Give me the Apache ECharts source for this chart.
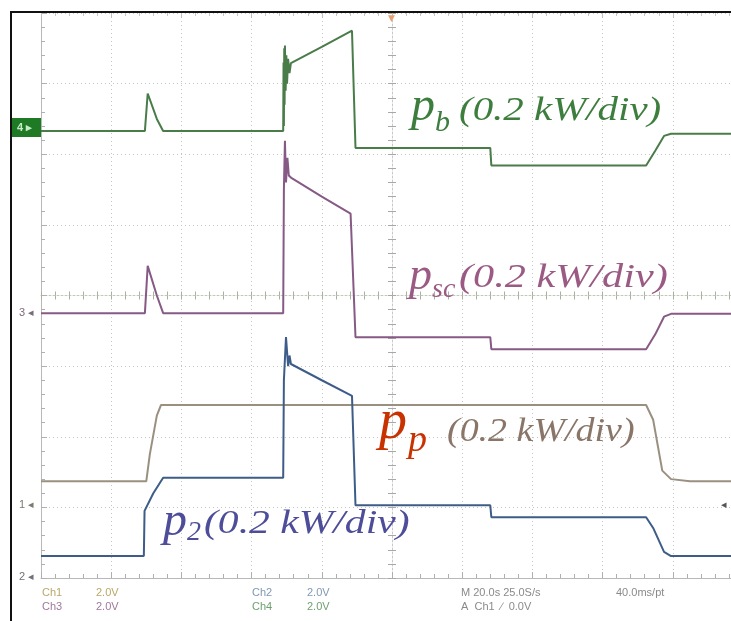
<!DOCTYPE html>
<html>
<head>
<meta charset="utf-8">
<script src="https://cdn.jsdelivr.net/npm/echarts@6/dist/echarts.min.js"></script>
<style>
  html, body { margin: 0; padding: 0; background: #fff; }
  #Chart1 { width: 731px; height: 621px; }
</style>
</head>
<body>
<div id="Chart1"></div>
<script>
// scope time axis: 20 s/div, 0 = trigger (centre of screen)
// trace values: vertical screen position in divisions from centre line
var pbData = [
  [-100, 2.33], [-70.4, 2.33], [-69.6, 2.86], [-67, 2.5], [-65.2, 2.33], [-31, 2.33],
  [-30.9, 3.3], [-30.8, 2.4], [-30.7, 3.5], [-30.6, 2.7], [-30.5, 3.54], [-30.3, 2.9],
  [-30.1, 3.4], [-29.9, 3.0], [-29.6, 3.35], [-29.2, 3.15], [-28.8, 3.29], [-20, 3.52],
  [-11.4, 3.75], [-10.4, 2.09], [28, 2.09], [28.3, 1.84], [72.4, 1.84], [75, 2.05],
  [77.5, 2.26], [79.5, 2.29], [100, 2.29]
];
var pscData = [
  [-100, -0.25], [-70.4, -0.25], [-69.6, 0.42], [-67, 0.0], [-65.2, -0.25], [-31, -0.25],
  [-30.8, 1.5], [-30.5, 2.19], [-30.2, 1.6], [-29.8, 1.95], [-29.4, 1.7], [-28.8, 1.67],
  [-20, 1.4], [-11.8, 1.16], [-10.4, -0.59], [28, -0.59], [28.3, -0.76], [72.4, -0.76],
  [75, -0.55], [77.5, -0.3], [79.5, -0.26], [100, -0.26]
];
var ppData = [
  [-100, -2.63], [-70, -2.63], [-69, -2.25], [-67, -1.7], [-65.8, -1.55], [72.4, -1.55],
  [74.4, -1.76], [77, -2.48], [79.5, -2.6], [84.9, -2.63], [100, -2.63]
];
var p2Data = [
  [-100, -3.69], [-70.7, -3.69], [-70.5, -3.05], [-68, -2.8], [-65.2, -2.58], [-31, -2.58],
  [-30.8, -1.2], [-30.2, -0.59], [-29.6, -1.0], [-29.2, -0.85], [-28.8, -0.97], [-20, -1.2],
  [-11.4, -1.42], [-10.4, -2.97], [28, -2.97], [28.3, -3.14], [72.4, -3.14], [74.5, -3.3],
  [77.5, -3.63], [79.5, -3.69], [100, -3.69]
];

var traceNames = ["p_b", "p_sc", "p_p", "p_2"];
var traceColors = ["#4a7c4a", "#865a84", "#9a9080", "#3d5d88"];

// readout lines under the screen
var readoutRow1 = [
  { text: "Ch1", x: 42, color: "#b8a868" },
  { text: "2.0V", x: 96, color: "#b8a868" },
  { text: "Ch2", x: 252, color: "#8098b4" },
  { text: "2.0V", x: 307, color: "#8098b4" },
  { text: "M 20.0s 25.0S/s", x: 461, color: "#8a8a8a" },
  { text: "40.0ms/pt", x: 616, color: "#8a8a8a" }
];
var readoutRow2 = [
  { text: "Ch3", x: 42, color: "#a07898" },
  { text: "2.0V", x: 96, color: "#a07898" },
  { text: "Ch4", x: 252, color: "#70a070" },
  { text: "2.0V", x: 307, color: "#70a070" },
  { text: "A  Ch1  \u2215  0.0V", x: 461, color: "#8a8a8a" }
];

function lbl(x, y, text, size, color, sx) {
  return {
    type: "text",
    x: x,
    y: y,
    scaleX: sx || 1,
    z: 20,
    style: {
      text: text,
      fill: color,
      font: "italic " + size + "px 'Liberation Serif', 'Times New Roman', serif",
      verticalAlign: "bottom"
    }
  };
}

function readout(items, y) {
  return items.map(function (it) {
    return {
      type: "text",
      x: it.x,
      y: y,
      z: 20,
      style: { text: it.text, fill: it.color, font: "11px 'Liberation Sans'", verticalAlign: "middle" }
    };
  });
}

var gridLine = { type: [1, 3], color: "#c4c4c4", width: 1 };

var Chart1 = echarts.init(document.getElementById("Chart1"));
option = {
  backgroundColor: "#ffffff",
  animation: false,
  grid: { left: 41, top: 13, width: 702, height: 565, outerBoundsMode: "none", containLabel: false },
  xAxis: [
    {
      type: "value", min: -100, max: 100, interval: 20, position: "bottom",
      axisLine: { onZero: false, lineStyle: { color: "#b8b8b8" } },
      axisTick: { show: true, inside: true, length: 6, lineStyle: { color: "#b0b0b0" } },
      minorTick: { show: true, splitNumber: 5, length: 4, lineStyle: { color: "#b0b0b0" } },
      axisLabel: { show: false },
      splitLine: { show: true, lineStyle: gridLine }
    },
    {
      type: "value", min: -100, max: 100, interval: 20, position: "top",
      axisLine: { onZero: false, show: false },
      axisTick: { show: true, inside: true, length: 5, lineStyle: { color: "#c0c0c0" } },
      minorTick: { show: true, splitNumber: 5, length: 3, lineStyle: { color: "#c8c8c8" } },
      axisLabel: { show: false },
      splitLine: { show: false }
    },
    {
      type: "value", min: -100, max: 100, interval: 20, position: "bottom",
      axisLine: { onZero: true, onZeroAxisIndex: 0, lineStyle: { color: "#c0c8b8", type: [2, 2] } },
      axisTick: { show: true, length: 4, lineStyle: { color: "#a8b0a0" } },
      minorTick: { show: true, splitNumber: 5, length: 4, lineStyle: { color: "#a8b0a0" } },
      axisLabel: { show: false },
      splitLine: { show: false }
    },
    {
      type: "value", min: -100, max: 100, interval: 20, position: "top",
      axisLine: { onZero: true, onZeroAxisIndex: 0, show: false },
      axisTick: { show: true, length: 4, lineStyle: { color: "#a8b0a0" } },
      minorTick: { show: true, splitNumber: 5, length: 4, lineStyle: { color: "#a8b0a0" } },
      axisLabel: { show: false },
      splitLine: { show: false }
    }
  ],
  yAxis: [
    {
      type: "value", min: -4, max: 4, interval: 1, position: "left",
      axisLine: { onZero: false, lineStyle: { color: "#b8b8b8" } },
      axisTick: { show: true, inside: true, length: 6, lineStyle: { color: "#b0b0b0" } },
      minorTick: { show: true, splitNumber: 5, length: 4, lineStyle: { color: "#b0b0b0" } },
      axisLabel: { show: false },
      splitLine: { show: true, lineStyle: gridLine }
    },
    {
      type: "value", min: -4, max: 4, interval: 1, position: "left",
      axisLine: { onZero: true, onZeroAxisIndex: 0, lineStyle: { color: "#c8c8c8", type: [2, 2] } },
      axisTick: { show: true, length: 4, lineStyle: { color: "#a8a8a8" } },
      minorTick: { show: true, splitNumber: 5, length: 4, lineStyle: { color: "#a8a8a8" } },
      axisLabel: { show: false },
      splitLine: { show: false }
    },
    {
      type: "value", min: -4, max: 4, interval: 1, position: "right",
      axisLine: { onZero: true, onZeroAxisIndex: 0, show: false },
      axisTick: { show: true, length: 4, lineStyle: { color: "#a8a8a8" } },
      minorTick: { show: true, splitNumber: 5, length: 4, lineStyle: { color: "#a8a8a8" } },
      axisLabel: { show: false },
      splitLine: { show: false }
    }
  ],
  series: [pbData, pscData, ppData, p2Data].map(function (d, i) {
    return {
      name: traceNames[i],
      type: "line",
      xAxisIndex: 0,
      yAxisIndex: 0,
      data: d,
      symbol: "none",
      z: 10,
      lineStyle: { color: traceColors[i], width: 2 }
    };
  }),
  graphic: [
    // screen frame
    { type: "rect", z: 30, shape: { x: 11, y: 12, width: 800, height: 700 }, style: { fill: "none", stroke: "#111", lineWidth: 2 } },
    // channel markers
    { type: "rect", z: 25, shape: { x: 12, y: 118, width: 29, height: 19 }, style: { fill: "#1f7a25" } },
    { type: "text", z: 26, x: 17, y: 128, style: { text: "4 \u25b8", fill: "#c8ecc8", font: "bold 11px 'Liberation Sans'", verticalAlign: "middle" } },
    { type: "text", z: 26, x: 19, y: 313, style: { text: "3 \u25c2", fill: "#7a6a7a", font: "11px 'Liberation Sans'", verticalAlign: "middle" } },
    { type: "text", z: 26, x: 19, y: 505, style: { text: "1 \u25c2", fill: "#7a7a70", font: "11px 'Liberation Sans'", verticalAlign: "middle" } },
    { type: "text", z: 26, x: 19, y: 577, style: { text: "2 \u25c2", fill: "#70707a", font: "11px 'Liberation Sans'", verticalAlign: "middle" } },
    { type: "text", z: 26, x: 388, y: 19, style: { text: "\u25bc", fill: "#e8a070", font: "9px 'DejaVu Sans'", verticalAlign: "middle" } },
    { type: "text", z: 26, x: 721, y: 505, style: { text: "\u25c2", fill: "#555", font: "11px 'DejaVu Sans'", verticalAlign: "middle" } },
    // trace labels
    lbl(411, 131, "p", 48, "#3d7d3d"),
    lbl(435, 138, "b", 30, "#3d7d3d"),
    lbl(459, 128, "(0.2 kW/div)", 33, "#3d7d3d", 1.24),
    lbl(409, 300, "p", 46, "#9a5a84"),
    lbl(432, 304, "sc", 28, "#9a5a84"),
    lbl(459, 295, "(0.2 kW/div)", 33, "#9a5a84", 1.28),
    lbl(379, 451, "p", 56, "#c83200"),
    lbl(408, 460, "p", 38, "#c83200"),
    lbl(447, 449, "(0.2 kW/div)", 33, "#8a7668", 1.15),
    lbl(163, 546, "p", 48, "#4d4d9a"),
    lbl(187, 547, "2", 28, "#4d4d9a"),
    lbl(204, 541, "(0.2 kW/div)", 33, "#4d4d9a", 1.26)
  ].concat(readout(readoutRow1, 593), readout(readoutRow2, 607))
};

Chart1.setOption(option);
</script>
</body>
</html>
